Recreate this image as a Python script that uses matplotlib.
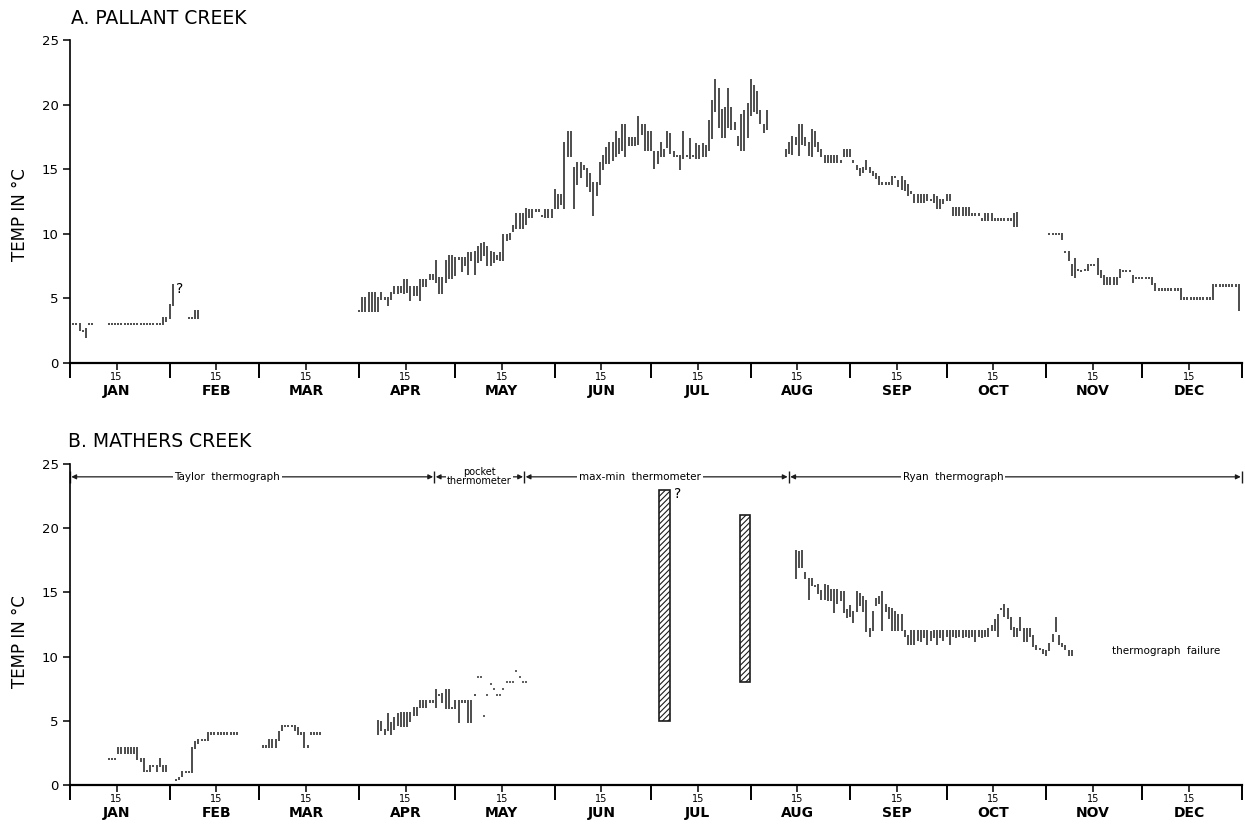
import numpy as np
import matplotlib
matplotlib.use("Agg")
import matplotlib.pyplot as plt

plt.rcParams['font.family'] = ['DejaVu Sans']
plt.rcParams['hatch.linewidth'] = 0.8

# ---------------------------------------------------------------- calendar
month_names = ["JAN", "FEB", "MAR", "APR", "MAY", "JUN",
               "JUL", "AUG", "SEP", "OCT", "NOV", "DEC"]
month_days = [31, 28, 31, 30, 31, 30, 31, 31, 30, 31, 30, 31]
y_ticks = [0, 5, 10, 15, 20, 25]

# ------------------------------------------- A. Pallant Creek, daily range (deg C)
pal_a_start = 1
pal_a_lo = [3.0, 3.0, 2.6, 2.5, 2.0, 3.0, 3.0]
pal_a_hi = [3.0, 3.0, 3.0, 2.5, 2.6, 3.0, 3.0]

pal_b_start = 12
pal_b_lo = [3.0, 3.0, 3.0, 3.0, 3.0, 3.0, 3.0, 3.0, 3.0, 3.0, 3.0, 3.0, 3.0, 3.0,
            3.0, 3.0, 3.0, 3.0, 3.3, 3.5, 4.5]
pal_b_hi = [3.0, 3.0, 3.0, 3.0, 3.0, 3.0, 3.0, 3.0, 3.0, 3.0, 3.0, 3.0, 3.0, 3.0,
            3.0, 3.0, 3.0, 3.5, 3.5, 4.5, 6.0]

pal_c_start = 37
pal_c_lo = [3.5, 3.5, 3.5, 3.5]
pal_c_hi = [3.5, 3.5, 4.0, 4.0]

pal_d_start = 90
pal_d_lo = [4.0, 4.0, 4.0, 4.0, 4.0, 4.0, 4.0, 5.0, 5.0, 4.5,
            5.0, 5.4, 5.4, 5.5, 5.4, 5.5, 4.9, 5.3, 5.3, 4.9,
            6.0, 6.0, 6.5, 6.5, 6.3, 5.4, 5.4, 6.3, 6.6, 6.6,
            6.8, 8.1, 7.1, 7.6, 6.9, 8.0, 6.9, 7.8, 8.0, 8.4,
            7.6, 7.6, 7.8, 8.1, 8.0, 8.0, 9.5, 9.6, 10.2, 10.5,
            10.5, 10.5, 10.8, 11.3, 11.3, 11.8, 11.8, 11.4, 11.3, 11.3,
            11.3, 12.0, 12.0, 12.3, 12.0, 16.0, 16.0, 12.0, 13.9, 14.4,
            15.0, 13.7, 13.3, 11.5, 13.0, 13.9, 15.0, 15.5, 15.5, 15.7,
            16.0, 16.3, 16.5, 16.0, 16.9, 16.9, 16.9, 17.0, 17.7, 16.5,
            16.5, 16.5, 15.1, 15.5, 16.0, 16.0, 16.7, 16.3, 16.0, 16.0,
            15.0, 15.9, 16.0, 15.9, 16.0, 15.9, 15.9, 16.0, 16.0, 16.5,
            17.4, 19.5, 18.3, 17.5, 17.5, 18.3, 18.1, 18.1, 16.9, 16.5,
            16.5, 17.5, 19.2, 19.5, 19.4, 18.6, 17.9, 18.1]
pal_d_hi = [4.0, 5.0, 5.0, 5.4, 5.4, 5.4, 5.0, 5.4, 5.0, 5.0,
            5.4, 5.9, 5.9, 5.9, 6.4, 6.4, 5.9, 5.9, 5.9, 6.4,
            6.4, 6.4, 6.8, 6.8, 7.9, 6.6, 6.6, 7.9, 8.3, 8.3,
            8.1, 8.1, 8.1, 8.1, 8.5, 8.5, 8.6, 9.0, 9.2, 9.3,
            9.0, 8.6, 8.5, 8.3, 8.5, 9.9, 9.9, 10.0, 10.6, 11.5,
            11.5, 11.5, 11.9, 11.8, 11.8, 11.8, 11.8, 11.4, 11.8, 11.8,
            11.8, 13.4, 13.0, 13.0, 17.0, 17.9, 17.9, 15.1, 15.5, 15.5,
            15.2, 15.0, 14.6, 13.9, 13.9, 15.5, 16.0, 16.6, 17.0, 17.0,
            17.9, 17.3, 18.4, 18.4, 17.4, 17.4, 17.4, 19.0, 18.4, 18.4,
            17.9, 17.9, 16.3, 16.3, 17.0, 16.5, 17.9, 17.7, 16.3, 16.0,
            16.0, 17.9, 16.0, 17.3, 16.0, 16.9, 16.8, 16.9, 16.8, 18.7,
            20.3, 21.9, 21.2, 19.6, 19.7, 21.2, 19.7, 18.6, 17.5, 19.2,
            19.5, 20.0, 21.9, 21.4, 21.0, 19.5, 18.4, 19.5]

pal_e_start = 223
pal_e_lo = [16.0, 16.3, 16.2, 17.0, 16.1, 17.0, 16.9, 16.1, 16.0, 16.8,
            16.4, 16.0, 15.6, 15.6, 15.6, 15.6, 15.6, 15.6, 16.0, 16.0,
            16.0, 15.6, 15.0, 14.6, 14.8, 15.0, 14.8, 14.6, 14.3, 13.9,
            13.9, 13.9, 13.9, 13.9, 14.4, 13.7, 13.5, 13.4, 13.0, 13.2,
            12.5, 12.5, 12.5, 12.5, 12.6, 12.6, 12.5, 12.0, 12.0, 12.4,
            12.6, 12.6, 11.5, 11.5, 11.5, 11.5, 11.5, 11.5, 11.5, 11.5,
            11.5, 11.1, 11.1, 11.1, 11.1, 11.1, 11.1, 11.1, 11.1, 11.1,
            11.1, 10.6, 10.6]
pal_e_hi = [16.5, 17.0, 17.5, 17.4, 18.4, 18.4, 17.4, 17.0, 18.0, 17.9,
            17.0, 16.5, 16.0, 16.0, 16.0, 16.0, 16.0, 15.6, 16.5, 16.5,
            16.5, 15.6, 15.2, 15.0, 15.1, 15.6, 15.1, 14.8, 14.6, 14.4,
            13.9, 13.9, 13.9, 14.4, 14.4, 14.1, 14.4, 14.1, 13.8, 13.2,
            13.0, 13.0, 13.0, 13.0, 13.0, 12.6, 13.0, 12.8, 12.6, 12.6,
            13.0, 13.0, 12.0, 12.0, 12.0, 12.0, 12.0, 12.0, 11.5, 11.5,
            11.5, 11.1, 11.5, 11.5, 11.5, 11.1, 11.1, 11.1, 11.1, 11.1,
            11.1, 11.5, 11.6]

pal_f_start = 305
pal_f_lo = [10.0, 10.0, 10.0, 10.0, 9.6, 8.6, 8.0, 6.8, 6.7, 7.2,
            7.1, 7.2, 7.2, 7.6, 7.6, 6.9, 6.7, 6.1, 6.1, 6.1,
            6.1, 6.1, 6.7, 7.1, 7.1, 7.1, 6.3, 6.6, 6.6, 6.6,
            6.6, 6.6, 6.1, 5.7, 5.7, 5.7, 5.7, 5.7, 5.7, 5.7,
            5.7, 5.0, 5.0, 5.0, 5.0, 5.0, 5.0, 5.0, 5.0, 5.0,
            5.0, 5.0, 6.0, 6.0, 6.0, 6.0, 6.0, 6.0, 6.0, 4.1]
pal_f_hi = [10.0, 10.0, 10.0, 10.0, 10.0, 8.6, 8.6, 7.6, 8.0, 7.2,
            7.1, 7.2, 7.6, 7.6, 7.6, 8.0, 7.1, 6.7, 6.6, 6.6,
            6.6, 6.6, 7.2, 7.1, 7.1, 7.1, 6.7, 6.6, 6.6, 6.6,
            6.6, 6.6, 6.6, 6.1, 5.7, 5.7, 5.7, 5.7, 5.7, 5.7,
            5.7, 5.7, 5.0, 5.0, 5.0, 5.0, 5.0, 5.0, 5.0, 5.0,
            5.0, 6.0, 6.0, 6.0, 6.0, 6.0, 6.0, 6.0, 6.0, 6.0]

# ------------------------------------------- B. Mathers Creek, daily range (deg C)
mat_a_start = 12
mat_a_lo = [2.0, 2.0, 2.0, 2.5, 2.5, 2.5, 2.5, 2.5, 2.5, 2.0,
            1.9, 1.1, 1.1, 1.1, 1.5, 1.1, 1.5, 1.1, 1.1]
mat_a_hi = [2.0, 2.0, 2.0, 2.9, 2.9, 2.9, 2.9, 2.9, 2.9, 2.9,
            2.0, 2.0, 1.1, 1.5, 1.5, 1.5, 2.0, 1.5, 1.5]

mat_b_start = 33
mat_b_lo = [0.4, 0.5, 0.7, 1.0, 1.0, 1.0, 2.9, 3.3, 3.5, 3.5,
            3.5, 4.0, 4.0, 4.0, 4.0, 4.0, 4.0, 4.0, 4.0, 4.0]
mat_b_hi = [0.4, 0.5, 1.0, 1.0, 1.0, 2.9, 3.3, 3.5, 3.5, 3.5,
            4.0, 4.0, 4.0, 4.0, 4.0, 4.0, 4.0, 4.0, 4.0, 4.0]

mat_c_start = 60
mat_c_lo = [3.0, 3.0, 3.0, 3.0, 3.0, 3.5, 4.3, 4.6, 4.6, 4.6,
            4.3, 4.0, 4.0, 3.0, 3.0, 4.0, 4.0, 4.0, 4.0]
mat_c_hi = [3.0, 3.0, 3.5, 3.5, 3.5, 4.1, 4.6, 4.6, 4.6, 4.6,
            4.6, 4.4, 4.0, 4.0, 3.0, 4.0, 4.0, 4.0, 4.0]

mat_d_start = 96
mat_d_lo = [4.0, 4.3, 4.0, 4.3, 4.0, 4.4, 4.7, 4.6, 4.6, 4.6,
            5.0, 5.5, 5.5, 6.1, 6.1, 6.1, 6.5, 6.5, 6.1, 7.0,
            6.5, 6.0, 6.0, 6.0, 6.0, 4.9, 6.5, 6.5, 4.9, 4.9, 7.0]
mat_d_hi = [5.0, 4.9, 4.3, 5.5, 4.8, 5.2, 5.5, 5.6, 5.6, 5.6,
            5.6, 6.0, 6.0, 6.5, 6.5, 6.5, 6.5, 6.5, 7.4, 7.0,
            7.1, 7.4, 7.4, 6.0, 6.5, 6.5, 6.5, 6.5, 6.5, 6.5, 7.0]

# pocket thermometer spot readings
pocket_day = [127, 128, 129, 130, 131, 132, 133, 134, 135, 136, 137, 138, 139, 140, 141, 142]
pocket_temp = [8.4, 8.4, 5.4, 7.0, 7.9, 7.5, 7.0, 7.0, 7.5, 8.0, 8.0, 8.0, 8.9, 8.4, 8.0, 8.0]

# max-min thermometer readings (period start/end day, min, max)
maxmin_start = [183.5, 208.7]
maxmin_end = [186.9, 211.9]
maxmin_lo = [5.0, 8.0]
maxmin_hi = [23.0, 21.0]

mat_e_start = 226
mat_e_lo = [16.1, 17.0, 17.0, 16.1, 14.5, 15.6, 15.5, 15.0, 14.5, 14.5,
            14.4, 14.4, 13.5, 14.2, 14.4, 13.5, 13.1, 13.2, 12.7, 13.6,
            14.0, 13.6, 12.0, 11.6, 12.1, 14.0, 14.2, 12.1, 13.6, 13.0,
            12.1, 12.1, 12.1, 12.1, 11.6, 11.0, 11.0, 11.0, 11.3, 11.2,
            11.5, 11.0, 11.3, 11.5, 11.0, 11.5, 11.3, 11.6, 11.0, 11.6,
            11.5, 11.6, 11.5, 11.6, 11.5, 11.6, 11.2, 11.6, 11.5, 11.6,
            11.6, 12.1, 12.1, 11.6, 13.7, 13.2, 13.0, 12.2, 11.6, 11.6,
            12.1, 11.2, 11.2, 11.6, 10.8, 10.6, 10.6, 10.3, 10.1, 10.5,
            11.2, 12.0, 11.0, 10.8, 10.6, 10.1, 10.1]
mat_e_hi = [18.2, 18.1, 18.2, 16.5, 16.0, 16.0, 15.5, 15.6, 15.1, 15.6,
            15.5, 15.2, 15.2, 15.2, 15.0, 15.0, 13.6, 13.9, 13.5, 15.0,
            14.9, 14.6, 14.3, 12.1, 13.5, 14.5, 14.6, 15.0, 14.0, 13.8,
            13.7, 13.5, 13.2, 13.2, 12.0, 11.6, 12.0, 12.0, 12.0, 12.0,
            12.0, 12.0, 11.9, 12.0, 12.0, 12.0, 12.0, 12.0, 12.0, 12.0,
            12.0, 12.0, 12.0, 12.0, 12.0, 12.0, 12.0, 12.0, 12.0, 12.0,
            12.1, 12.4, 12.8, 13.2, 13.7, 14.0, 13.7, 13.0, 12.2, 12.1,
            13.0, 12.1, 12.1, 12.1, 11.6, 10.8, 10.6, 10.5, 10.4, 11.0,
            11.7, 13.0, 11.6, 11.0, 10.8, 10.4, 10.4]

# instrument periods along the top of panel B (day of year)
instrument_bounds = [0, 113.5, 141.5, 223.9, 365]
instrument_names = ["Taylor  thermograph", "pocket\nthermometer",
                    "max-min  thermometer", "Ryan  thermograph"]

INK = "#1c1c1c"


def draw_ranges(ax, start, lo, hi):
    lo = np.asarray(lo, float)
    hi = np.asarray(hi, float)
    x = start + np.arange(len(lo))
    # a single reading still shows as a short dash
    ax.vlines(x, lo - 0.09, hi + 0.09, color=INK, lw=1.1, capstyle='butt')


def setup_axes(ax):
    ax.set_xlim(0, 365)
    ax.set_ylim(0, 25)
    for s in ("top", "right"):
        ax.spines[s].set_visible(False)
    ax.spines["left"].set_linewidth(1.2)
    ax.spines["bottom"].set_linewidth(1.6)
    bounds = np.cumsum([0] + month_days)
    mids = bounds[:-1] + 14.5
    ax.set_xticks(bounds)
    ax.set_xticklabels([])
    ax.set_xticks(mids, minor=True)
    ax.set_xticklabels(["15"] * 12, minor=True)
    ax.tick_params(axis="x", which="major", length=11, width=1.4, direction="out")
    ax.tick_params(axis="x", which="minor", length=5, width=1.1, pad=1.5,
                   labelsize=7, direction="out")
    ax.set_yticks(y_ticks)
    ax.tick_params(axis="y", length=5, width=1.1, pad=3, labelsize=9.5)
    for m, name in zip(mids, month_names):
        ax.annotate(name, xy=(m, 0), xycoords=("data", "axes fraction"),
                    xytext=(0, -20.5), textcoords="offset points",
                    ha="center", va="center", fontsize=10, fontweight="bold")


fig = plt.figure(figsize=(12.45, 8.24), dpi=100)
ax1 = fig.add_axes([70 / 1245, 1 - 363 / 824, 1172 / 1245, 323 / 824])
ax2 = fig.add_axes([70 / 1245, 1 - 785 / 824, 1172 / 1245, 321 / 824])
setup_axes(ax1)
setup_axes(ax2)

# ---- panel A
for start, lo, hi in [(pal_a_start, pal_a_lo, pal_a_hi),
                      (pal_b_start, pal_b_lo, pal_b_hi),
                      (pal_c_start, pal_c_lo, pal_c_hi),
                      (pal_d_start, pal_d_lo, pal_d_hi),
                      (pal_e_start, pal_e_lo, pal_e_hi),
                      (pal_f_start, pal_f_lo, pal_f_hi)]:
    draw_ranges(ax1, start, lo, hi)
ax1.text(34.2, 5.7, "?", ha="center", va="center", fontsize=10)

# ---- panel B
for start, lo, hi in [(mat_a_start, mat_a_lo, mat_a_hi),
                      (mat_b_start, mat_b_lo, mat_b_hi),
                      (mat_c_start, mat_c_lo, mat_c_hi),
                      (mat_d_start, mat_d_lo, mat_d_hi),
                      (mat_e_start, mat_e_lo, mat_e_hi)]:
    draw_ranges(ax2, start, lo, hi)
ax2.vlines(pocket_day, np.asarray(pocket_temp) - 0.08, np.asarray(pocket_temp) + 0.08,
           color="#333333", lw=1.1)

for s, e, lo, hi in zip(maxmin_start, maxmin_end, maxmin_lo, maxmin_hi):
    ax2.bar(s, hi - lo, bottom=lo, width=e - s, align="edge",
            facecolor="white", edgecolor=INK, hatch="//////", linewidth=1.2)
ax2.text(189.2, 22.7, "?", ha="center", va="center", fontsize=10)
ax2.text(341.5, 10.4, "thermograph  failure", ha="center", va="center", fontsize=7.5)

# instrument period arrows
arrow_y = 24.0
for x0, x1 in zip(instrument_bounds[:-1], instrument_bounds[1:]):
    ax2.annotate("", xy=(x1 - 0.4, arrow_y), xytext=(x0 + 0.4, arrow_y),
                 arrowprops=dict(arrowstyle="<|-|>", lw=0.9, color=INK,
                                 shrinkA=0, shrinkB=0, mutation_scale=7),
                 zorder=2)
ax2.vlines(instrument_bounds, arrow_y - 0.45, arrow_y + 0.45, color=INK, lw=1.0,
           clip_on=False)
label_pos = [49.0, 127.5, 177.5, 275.0]
for xp, name in zip(label_pos, instrument_names):
    small = "\n" in name
    ax2.text(xp, arrow_y, name, ha="center", va="center",
             fontsize=7 if small else 7.5, linespacing=0.85,
             bbox=dict(facecolor="white", edgecolor="none", pad=0.6 if small else 1.2),
             zorder=3)

# ---- titles and axis captions
fig.text(71 / 1245, 1 - 18 / 824, "A. PALLANT CREEK", ha="left", va="center", fontsize=13.5)
fig.text(68 / 1245, 1 - 441 / 824, "B. MATHERS CREEK", ha="left", va="center", fontsize=13.5)
fig.text(20 / 1245, 1 - 215 / 824, "TEMP IN °C", rotation=90, ha="center", va="center",
         fontsize=12)
fig.text(20 / 1245, 1 - 642 / 824, "TEMP IN °C", rotation=90, ha="center", va="center",
         fontsize=12)

fig.savefig("out.png", dpi=100, facecolor="white")
